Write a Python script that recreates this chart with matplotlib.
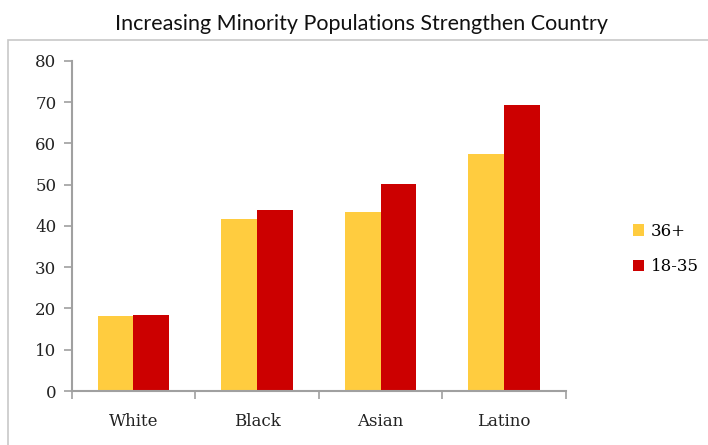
import numpy as np
import matplotlib
matplotlib.use("Agg")
import matplotlib.pyplot as plt
from matplotlib.patches import Rectangle

categories = ["White", "Black", "Asian", "Latino"]
older = [18.2, 41.6, 43.3, 57.5]     # 36+
younger = [18.4, 43.9, 50.1, 69.2]   # 18-35
series_names = ["36+", "18-35"]

fig = plt.figure(figsize=(7.08, 4.45), dpi=100)
ax = fig.add_axes([0.1013, 0.1213, 0.698, 0.742])

# outer frame round the chart
fig.patches.append(Rectangle((8 / 708, -0.05), 1.0, 1 - 40 / 445 + 0.05,
                             transform=fig.transFigure, fill=False,
                             edgecolor="#c8c8c8", linewidth=1.2))

x = np.arange(len(categories))
w = 0.29
ax.bar(x - w / 2, older, w, color="#FFCC3F", label=series_names[0])
ax.bar(x + w / 2, younger, w, color="#CC0000", label=series_names[1])

ax.set_xlim(-0.5, len(categories) - 0.5)
ax.set_ylim(0, 80)
ax.set_yticks(range(0, 81, 10))
ax.set_xticks(x)
ax.set_xticklabels(categories)
ax.set_xticks(np.arange(-0.5, len(categories)), minor=True)
ax.tick_params(axis="x", which="major", length=0, pad=16)
ax.tick_params(axis="x", which="minor", length=6, color="#a0a0a0", width=1.2)
ax.tick_params(axis="y", length=6, color="#a0a0a0", width=1.2, pad=5)

for lab in ax.get_xticklabels() + ax.get_yticklabels():
    lab.set_fontfamily("DejaVu Serif")
    lab.set_fontsize(12)
    lab.set_color("#222222")

for s in ["top", "right"]:
    ax.spines[s].set_visible(False)
for s in ["left", "bottom"]:
    ax.spines[s].set_color("#a0a0a0")
    ax.spines[s].set_linewidth(1.5)

fig.text(0.51, 0.945, "Increasing Minority Populations Strengthen Country",
         ha="center", va="center", fontsize=15.5, family="Lato",
         color="#111111")

leg = ax.legend(loc="center left", bbox_to_anchor=(1.105, 0.43), frameon=False,
                handlelength=0.7, handleheight=0.7, handletextpad=0.4,
                labelspacing=1.1, prop={"family": "DejaVu Serif", "size": 12})

fig.savefig("out.png", dpi=100)
